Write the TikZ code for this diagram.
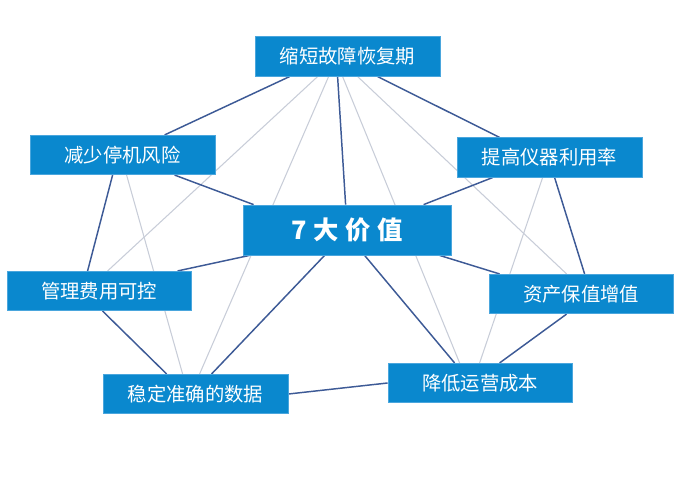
\documentclass[tikz,border=0pt]{standalone}
\usepackage{fontspec}
\setmainfont{Noto Sans CJK SC}
\usetikzlibrary{calc,backgrounds}
\definecolor{boxblue}{HTML}{0A88CE}
\definecolor{boxedge}{HTML}{4AA6DD}
\definecolor{darkline}{HTML}{3D5A96}
\definecolor{grayline}{HTML}{C8CDD8}
\newcommand\pp[3]{($(#1)+(#2,#3)$)}
\begin{document}
\begin{tikzpicture}[x=0.75pt,y=-0.75pt]
\tikzset{
 vbox/.style={fill=boxblue,draw=boxedge,line width=0.6pt,text=white,inner sep=0pt,font=\fontsize{14.5}{16}\selectfont,minimum height=29.5pt},
 dk/.style={draw=darkline,line width=1.1pt},
 gy/.style={draw=grayline,line width=0.8pt}
}
\useasboundingbox (0,0) rectangle (680,484);
\node[vbox,minimum width=138.75pt] (top) at (347.5,56.5) {缩短故障恢复期};
\node[vbox,minimum width=138.75pt] (js) at (122.5,155) {减少停机风险};
\node[vbox,minimum width=138.75pt] (tg) at (549.5,157.5) {提高仪器利用率};
\node[vbox,minimum width=156pt,minimum height=37.5pt,font=\fontsize{19}{22}\selectfont\bfseries] (c) at (347,230) {7\hspace{5pt}大\hspace{5pt}价\hspace{5pt}值};
\node[vbox,minimum width=138pt] (gl) at (99,291) {管理费用可控};
\node[vbox,minimum width=138pt] (zc) at (581,294) {资产保值增值};
\node[vbox,minimum width=138.75pt] (wd) at (195.5,394) {稳定准确的数据};
\node[vbox,minimum width=138pt] (jd) at (480,383) {降低运营成本};
\begin{scope}[on background layer]
\draw[gy] \pp{top.south west}{63}{0} -- \pp{gl.north west}{101}{0};
\draw[gy] \pp{top.south west}{74}{0} -- \pp{wd.north west}{97}{0};
\draw[gy] \pp{top.south west}{88}{0} -- \pp{jd.north west}{72}{0};
\draw[gy] \pp{top.south west}{103}{0} -- \pp{zc.north west}{78}{0};
\draw[gy] \pp{js.south west}{97}{0} -- \pp{wd.north west}{80}{0};
\draw[gy] \pp{tg.south west}{86}{0} -- \pp{jd.north west}{92}{0};
\draw[dk] \pp{top.south west}{35}{0} -- \pp{js.north west}{135}{0};
\draw[dk] \pp{top.south west}{83}{0} -- \pp{c.north west}{103}{0};
\draw[dk] \pp{top.south west}{123}{0} -- \pp{tg.north west}{43}{0};
\draw[dk] \pp{js.south west}{145}{0} -- \pp{c.north west}{11}{0};
\draw[dk] \pp{js.south west}{83}{0} -- \pp{gl.north west}{81}{0};
\draw[dk] \pp{tg.south west}{36}{0} -- \pp{c.north west}{181}{0};
\draw[dk] \pp{tg.south west}{98}{0} -- \pp{zc.north west}{96}{0};
\draw[dk] \pp{c.south west}{7}{0} -- \pp{gl.north west}{171}{0};
\draw[dk] \pp{c.south west}{197}{0} -- \pp{zc.north west}{11}{0};
\draw[dk] \pp{c.south west}{82}{0} -- \pp{wd.north west}{109}{0};
\draw[dk] \pp{c.south west}{122}{0} -- \pp{jd.north west}{67}{0};
\draw[dk] \pp{gl.south west}{96}{0} -- \pp{wd.north west}{64}{0};
\draw[dk] \pp{zc.south west}{78}{0} -- \pp{jd.north west}{112}{0};
\draw[dk] (wd.east) -- (jd.west);
\end{scope}
\end{tikzpicture}
\end{document}
